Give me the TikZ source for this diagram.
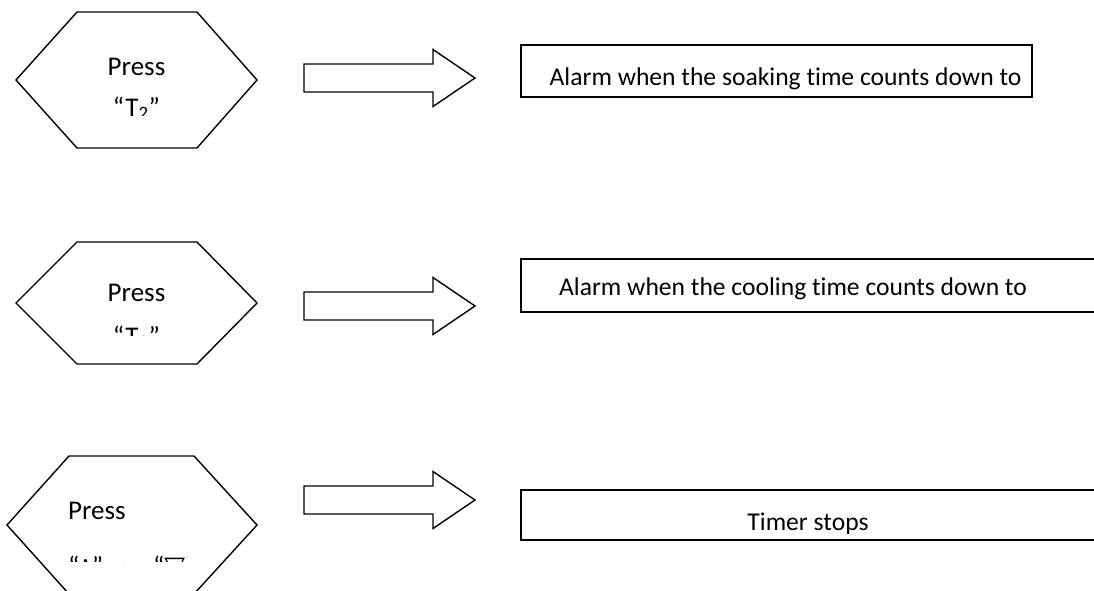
\documentclass[tikz,border=0pt]{standalone}
\usepackage{fontspec}
\setmainfont{Carlito}[Ligatures=NoCommon]
\newfontfamily\symfont{DejaVu Sans}
\begin{document}
\begin{tikzpicture}[x=1pt,y=-1pt,
  outline/.style={draw=black, line width=1.4pt, line join=miter},
  hextext/.style={font=\fontsize{27}{32}\selectfont, inner sep=0pt, anchor=base},
  boxtext/.style={font=\fontsize{25.6}{30}\selectfont, inner sep=0pt, anchor=base},
]
  % Page frame
  \clip (0,0) rectangle (1094,590);

  % Hexagons: left tip, top edge from \a to \b, right tip, top and bottom
  \foreach \l/\a/\b/\r/\t/\u in {16/77/197/257/12/148, 16/77/197/257/242/364, 7/69/194/257/456/594} {
    \draw[outline] (\l,{(\t+\u)/2}) -- (\a,\t) -- (\b,\t) -- (\r,{(\t+\u)/2}) -- (\b,\u) -- (\a,\u) -- cycle;
  }

  % Block arrows pointing right
  \foreach \y in {78, 306, 500} {
    \draw[outline] (304,\y-14) -- (433,\y-14) -- (433,\y-28.5) -- (475,\y) -- (433,\y+28.5) -- (433,\y+14) -- (304,\y+14) -- cycle;
  }

  % Result boxes
  \draw[outline, line width=1.2pt] (521,45) rectangle (1032,97);
  \draw[outline, line width=1.2pt] (521,259) rectangle (1100,312);
  \draw[outline] (521,490) rectangle (1100,540);

  % Key labels, cut off like the text frames of the source
  \begin{scope}
    \clip (20,0) rectangle (250,115);
    \node[hextext] (press1) at (136.5,75) {Press};
    \node[hextext] (key1) at (136.5,116) {“T\textsubscript{2}”};
  \end{scope}
  \begin{scope}
    \clip (20,230) rectangle (250,335);
    \node[hextext] (press2) at (136.5,301.7) {Press};
    \node[hextext] (key2) at (136.5,345) {“T\textsubscript{3}”};
  \end{scope}
  \begin{scope}
    \clip (20,470) rectangle (187,561.5);
    \node[hextext, anchor=base west] (press3) at (68,519) {Press};
    \node[hextext, anchor=base west] (key3) at (68,575.5) {“\raisebox{6pt}{\symfont\fontsize{17}{17}\selectfont ∧}”\hspace{7pt} or \hspace{7pt}“{\symfont ▽}”};
  \end{scope}

  % Box texts
  \begin{scope}
    \clip (521,45) rectangle (1032,89);
    \node[boxtext] (alarm1) at (785.5,85) {Alarm when the soaking time counts down to};
  \end{scope}
  \node[boxtext] (alarm2) at (793,295) {Alarm when the cooling time counts down to};
  \begin{scope}
    \clip (521,490) rectangle (1094,533);
    \node[boxtext] (stop3) at (808,530) {Timer stops};
  \end{scope}
\end{tikzpicture}
\end{document}
